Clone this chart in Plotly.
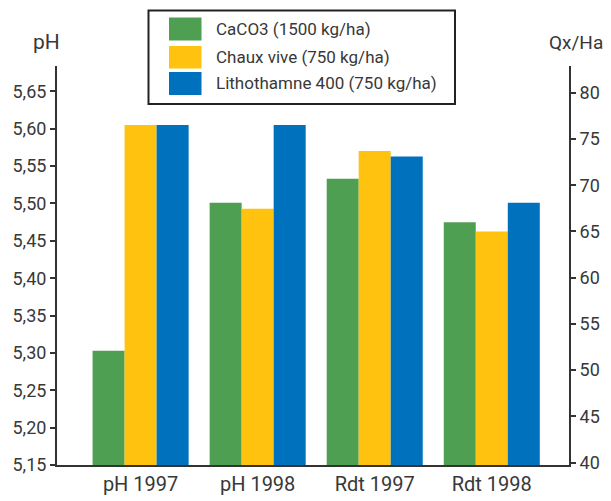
import plotly.graph_objects as go

categories = ["pH 1997", "pH 1998", "Rdt 1997", "Rdt 1998"]
series_names = ["CaCO3 (1500 kg/ha)", "Chaux vive (750 kg/ha)", "Lithothamne 400 (750 kg/ha)"]
# pH values (left axis)
ph_caco3 = [5.303, 5.501]
ph_chaux = [5.605, 5.493]
ph_litho = [5.605, 5.605]
# Yield values Qx/Ha (right axis)
rdt_caco3 = [70.7, 66.0]
rdt_chaux = [73.7, 65.0]
rdt_litho = [73.1, 68.1]

left_ticks = [5.15, 5.20, 5.25, 5.30, 5.35, 5.40, 5.45, 5.50, 5.55, 5.60, 5.65]
right_ticks = [40, 45, 50, 55, 60, 65, 70, 75, 80]

colors = ["#4F9F53", "#FEC20F", "#0071BC"]
ph_vals = [ph_caco3, ph_chaux, ph_litho]
rdt_vals = [rdt_caco3, rdt_chaux, rdt_litho]

# page body has an 8px margin; figure is sized/offset to compensate
OFF = 8
W, H = 611 - OFF, 501 - OFF
L, R, T, B = 57 - OFF, 42, 66 - OFF, 35.5
pw, ph = W - L - R, H - T - B

def px2x(px):
    return (px - OFF - L) / pw

def px2y(py):
    return (H - B - (py - OFF)) / ph

FONT = "Roboto"
TXT = "#383838"

fig = go.Figure()
bw = 0.2735
for i, name in enumerate(series_names):
    off = -0.41 + i * bw
    fig.add_trace(go.Bar(x=categories[:2], y=ph_vals[i], name=name, marker_color=colors[i],
                         marker_line_width=0, width=bw, offset=off, yaxis="y", showlegend=False))
    fig.add_trace(go.Bar(x=categories[2:], y=rdt_vals[i], name=name, marker_color=colors[i],
                         marker_line_width=0, width=bw, offset=off, yaxis="y2", showlegend=False))

shapes = []
annotations = []
# legend box
shapes.append(dict(type="rect", xref="paper", yref="paper",
                   x0=px2x(148.5), x1=px2x(455), y0=px2y(104), y1=px2y(10.5),
                   line=dict(color="#222222", width=2), fillcolor="white", layer="above"))
rows = [(17.5, 40.5), (46, 68.5), (72, 95)]
for i, name in enumerate(series_names):
    y0, y1 = rows[i]
    shapes.append(dict(type="rect", xref="paper", yref="paper",
                       x0=px2x(169), x1=px2x(201.5), y0=px2y(y1), y1=px2y(y0),
                       line=dict(width=0), fillcolor=colors[i], layer="above"))
    annotations.append(dict(text=name, xref="paper", yref="paper", x=px2x(214), y=px2y((y0 + y1) / 2),
                            xanchor="left", yanchor="middle", showarrow=False,
                            font=dict(family=FONT, size=17, color=TXT)))

annotations.append(dict(text="pH", xref="paper", yref="paper", x=px2x(46), y=px2y(42),
                        xanchor="center", yanchor="middle", showarrow=False,
                        font=dict(family=FONT, size=21, color=TXT)))
annotations.append(dict(text="Qx/Ha", xref="paper", yref="paper", x=px2x(576), y=px2y(42),
                        xanchor="center", yanchor="middle", showarrow=False,
                        font=dict(family=FONT, size=19, color=TXT)))

fig.update_layout(
    width=W, height=H,
    margin=dict(l=L, r=R, t=T, b=B, pad=0, autoexpand=False),
    paper_bgcolor="white", plot_bgcolor="white",
    separators=", ",
    barmode="overlay",
    font=dict(family=FONT, color=TXT, size=18),
    xaxis=dict(type="category", categoryorder="array", categoryarray=categories,
               range=[-0.714, 3.66], showline=True, linecolor="#333333", linewidth=2,
               ticks="", showgrid=False, zeroline=False, automargin=False,
               tickfont=dict(family=FONT, size=20, color=TXT)),
    yaxis=dict(range=[5.15, 5.684], tickvals=left_ticks, tickformat=".2f",
               showline=True, linecolor="#333333", linewidth=2,
               ticks="outside", ticklen=5, tickcolor="#333333", tickwidth=1.5,
               showgrid=False, zeroline=False, automargin=False,
               tickfont=dict(family=FONT, size=18, color=TXT)),
    yaxis2=dict(range=[39.73, 82.9], tickvals=right_ticks, overlaying="y", side="right",
                showline=True, linecolor="#333333", linewidth=2,
                ticks="outside", ticklen=5, tickcolor="#333333", tickwidth=1.5,
                showgrid=False, zeroline=False, automargin=False,
                tickfont=dict(family=FONT, size=18, color=TXT)),
    shapes=shapes,
    annotations=annotations,
)

fig.write_html("out.html")
